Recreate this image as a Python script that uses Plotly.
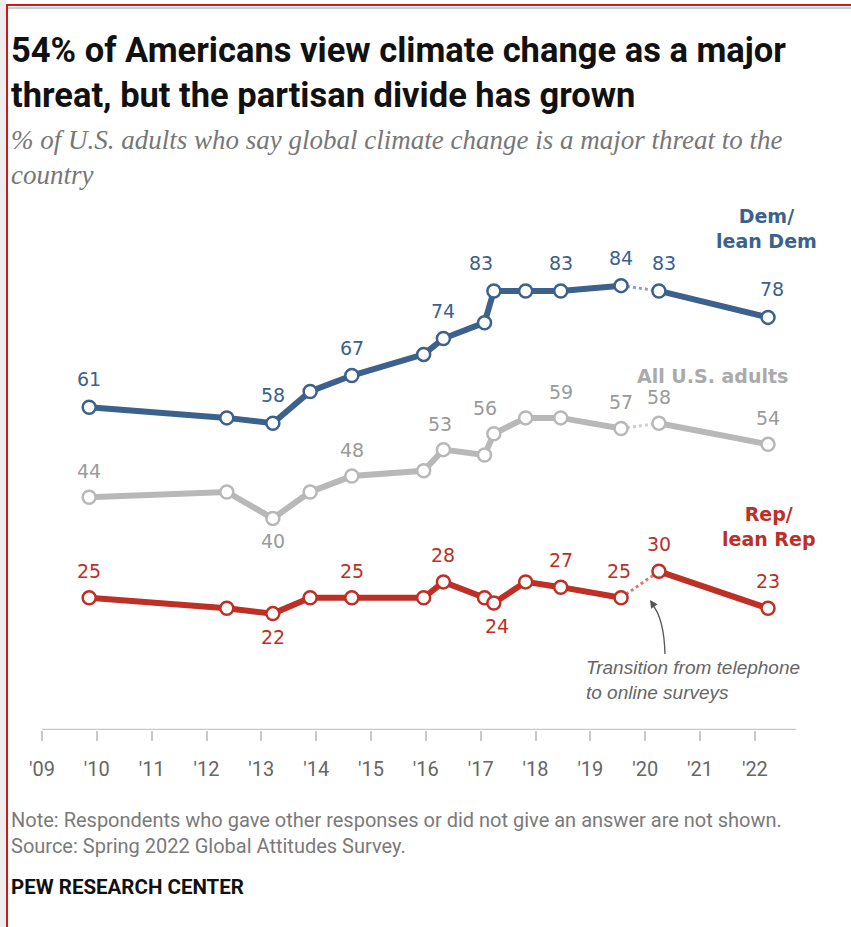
import plotly.graph_objects as go

# ---------------- data ----------------
survey_dates = [2009.86, 2012.37, 2013.21, 2013.89, 2014.65, 2015.96, 2016.32,
                2017.07, 2017.24, 2017.82, 2018.46, 2019.56, 2020.25, 2022.24]
dem_values = [61, 59, 58, 64, 67, 71, 74, 77, 83, 83, 83, 84, 83, 78]
all_values = [44, 45, 40, 45, 48, 49, 53, 52, 56, 59, 59, 57, 58, 54]
rep_values = [25, 23, 22, 25, 25, 25, 28, 25, 24, 28, 27, 25, 30, 23]
tick_years = list(range(2009, 2023))
tick_labels = ["'09", "'10", "'11", "'12", "'13", "'14", "'15", "'16", "'17",
               "'18", "'19", "'20", "'21", "'22"]
# indices of points that carry a value label
dem_labeled = [0, 2, 4, 6, 8, 10, 11, 12, 13]
all_labeled = [0, 2, 4, 6, 8, 10, 11, 12, 13]
rep_labeled = [0, 2, 4, 6, 8, 10, 11, 12, 13]
all_below = [2]
rep_below = [2, 8]
phone_end = 11   # last telephone survey index; next is online

# ---------------- style ----------------
W, H = 851, 927
L, R, T, B = 42, 55, 201, 197
PW, PH = W - L - R, H - T - B
DEM = "#3b618c"
DEM_DOT = "#8ea3bb"
REP = "#be2f26"
REP_DOT = "#d97a74"
GRY = "#b8b8b8"
GRY_TXT = "#9a9a9a"
GRY_DOT = "#cfcfcf"
SANS = "Liberation Sans, Arial, sans-serif"
DV = "DejaVu Sans, Arial, sans-serif"
TITLEF = "Roboto, Arial, sans-serif"

# small nudges of value labels (pixels), keyed by (series, index)
label_xshift = {("dem", 8): -13, ("all", 8): -9, ("dem", 12): 5, ("dem", 13): 4,
                ("all", 6): -3, ("rep", 8): 3, ("rep", 11): -2}
label_yshift_above = {"dem": 28, "all": 26, "rep": 27}


def px(xp):
    return (xp - L) / PW


def py(yp):
    return (H - B - yp) / PH


fig = go.Figure()

series = [
    ("dem", dem_values, DEM, DEM_DOT, DEM, dem_labeled, []),
    ("all", all_values, GRY, GRY_DOT, GRY_TXT, all_labeled, all_below),
    ("rep", rep_values, REP, REP_DOT, REP, rep_labeled, rep_below),
]

for name, vals, col, dotcol, txtcol, labeled, below in series:
    k = phone_end
    fig.add_trace(go.Scatter(x=survey_dates[k:k + 2], y=vals[k:k + 2], mode="lines",
                             line=dict(color=dotcol, width=3, dash="dot"),
                             hoverinfo="skip", showlegend=False))
    for seg in (slice(0, k + 1), slice(k + 1, None)):
        fig.add_trace(go.Scatter(
            x=survey_dates[seg], y=vals[seg], mode="lines+markers",
            line=dict(color=col, width=6),
            marker=dict(size=13, color="white", line=dict(color=col, width=2.5)),
            hoverinfo="skip", showlegend=False))
    for i in labeled:
        is_below = i in below
        fig.add_annotation(x=survey_dates[i], y=vals[i], text=str(vals[i]),
                           showarrow=False, xref="x", yref="y",
                           xanchor="center", yanchor="middle",
                           xshift=label_xshift.get((name, i), 0),
                           yshift=-23 if is_below else label_yshift_above[name],
                           font=dict(family=DV, size=19, color=txtcol))

# series names
fig.add_annotation(x=px(766), y=py(228), xref="paper", yref="paper",
                   xanchor="center", yanchor="middle",
                   text="<b>Dem/<br>lean Dem</b>", showarrow=False,
                   font=dict(family=DV, size=19, color=DEM), align="center")
fig.add_annotation(x=px(712), y=py(376), xref="paper", yref="paper",
                   xanchor="center", yanchor="middle",
                   text="<b>All U.S. adults</b>", showarrow=False,
                   font=dict(family=DV, size=19, color="#aaaaaa"))
fig.add_annotation(x=px(768), y=py(526), xref="paper", yref="paper",
                   xanchor="center", yanchor="middle",
                   text="<b>Rep/<br>lean Rep</b>", showarrow=False,
                   font=dict(family=DV, size=19, color=REP), align="center")

# transition note with curved arrow
fig.add_annotation(x=px(584), y=py(680), xref="paper", yref="paper",
                   text="<i>Transition from telephone<br>to online surveys</i>",
                   showarrow=False, xanchor="left", yanchor="middle", align="left",
                   font=dict(family=SANS, size=19, color="#666666"))
fig.add_shape(type="path", xref="paper", yref="paper",
              path=f"M {px(665)},{py(654)} Q {px(664)},{py(618)} {px(652)},{py(604)}",
              line=dict(color="#555555", width=1.3))
fig.add_annotation(x=px(650), y=py(600), ax=4, ay=6,
                   xref="paper", yref="paper", axref="pixel", ayref="pixel",
                   text="", showarrow=True, arrowhead=2, arrowsize=1.2,
                   arrowwidth=1.3, arrowcolor="#555555")

# title, subtitle
fig.add_annotation(x=px(9), y=py(28), xref="paper", yref="paper",
                   xanchor="left", yanchor="top", align="left", showarrow=False,
                   text="<b>54% of Americans view climate change as a major<br>"
                        "threat, but the partisan divide has grown</b>",
                   font=dict(family=TITLEF, size=34.5, color="#111111"))
fig.add_annotation(x=px(9), y=py(123), xref="paper", yref="paper",
                   xanchor="left", yanchor="top", align="left", showarrow=False,
                   text="<i>% of U.S. adults who say global climate change is a major threat to the<br>"
                        "country</i>",
                   font=dict(family="Liberation Serif, Times New Roman, serif",
                             size=27, color="#777777"))

# footer
fig.add_annotation(x=px(9), y=py(806), xref="paper", yref="paper",
                   xanchor="left", yanchor="top", align="left", showarrow=False,
                   text="Note: Respondents who gave other responses or did not give an answer are not shown.<br>"
                        "Source: Spring 2022 Global Attitudes Survey.",
                   font=dict(family=TITLEF, size=20, color="#7a7a7a"))
fig.add_annotation(x=px(9), y=py(873), xref="paper", yref="paper",
                   xanchor="left", yanchor="top", align="left", showarrow=False,
                   text="<b>PEW RESEARCH CENTER</b>",
                   font=dict(family=TITLEF, size=20.5, color="#111111"))

# screenshot frame
fig.add_shape(type="rect", xref="paper", yref="paper",
              x0=px(0), x1=px(6), y0=py(927), y1=py(0),
              fillcolor="#eeeeee", line=dict(width=0), layer="below")
fig.add_shape(type="line", xref="paper", yref="paper",
              x0=px(7), x1=px(7), y0=py(927), y1=py(4),
              line=dict(color="#cc1a1a", width=2))
fig.add_shape(type="line", xref="paper", yref="paper",
              x0=px(6), x1=px(851), y0=py(5), y1=py(5),
              line=dict(color="#cc1a1a", width=2))
fig.add_shape(type="line", xref="paper", yref="paper",
              x0=px(8), x1=px(851), y0=py(8), y1=py(8),
              line=dict(color="#cccccc", width=2))

fig.update_xaxes(range=[2009, 2022.75], tickmode="array", tickvals=tick_years,
                 ticktext=tick_labels, showgrid=False, zeroline=False,
                 showline=False, ticks="outside", ticklen=10, tickcolor="#c8c8c8",
                 tickwidth=1.5, ticklabelstandoff=11,
                 tickfont=dict(family=TITLEF, size=20, color="#666666"))
fig.update_yaxes(range=[0, 100], visible=False)
fig.add_shape(type="line", xref="paper", yref="y", x0=0, x1=1, y0=0, y1=0,
              line=dict(color="#c8c8c8", width=2.5))

fig.update_layout(width=W, height=H, margin=dict(l=L, r=R, t=T, b=B),
                  paper_bgcolor="white", plot_bgcolor="white",
                  showlegend=False, hovermode=False)

fig.write_html("out.html", config={"displayModeBar": False},
               post_script="document.body.style.margin='0px';"
                           "document.body.style.overflow='hidden';")
